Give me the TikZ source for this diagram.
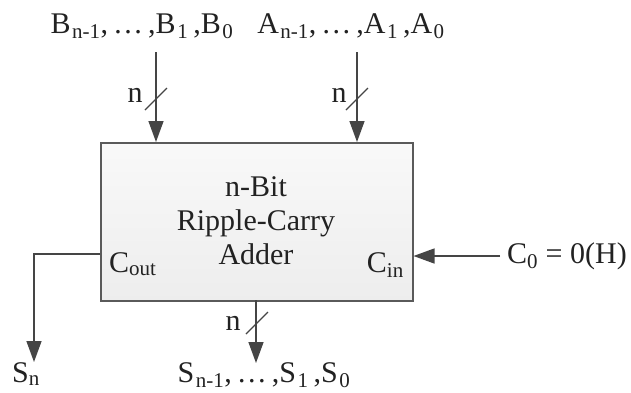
\documentclass[tikz,border=0pt]{standalone}
\usepackage{fontspec}
\setmainfont{Liberation Serif}
\usetikzlibrary{arrows.meta}
\definecolor{wirecol}{HTML}{454545}
\definecolor{boxcol}{HTML}{5A5A5A}
\definecolor{txtcol}{HTML}{222222}
\newcommand{\sbs}[1]{\kern1.5pt\textsubscript{#1}}
\begin{document}
\begin{tikzpicture}[x=1pt,y=-1pt,
  wire/.style={draw=wirecol, line width=1.4pt},
  arr/.style={wire, -{Triangle[length=21pt,width=15pt]}},
  slash/.style={draw=wirecol, line width=1.1pt},
  lbl/.style={font=\fontsize{30}{34}\selectfont, inner sep=0pt, text=txtcol},
  adderbox/.style={draw=boxcol, line width=1.5pt, top color=gray!5, bottom color=gray!14,
    minimum width=312pt, minimum height=158pt, inner sep=0pt, anchor=north west}]
\useasboundingbox (0,0) rectangle (631,392);
% box
\node[adderbox] (add) at (100,142) {};
\node[lbl, align=center] (title) at (256,221) {n-Bit\\Ripple-Carry\\Adder};
\node[lbl, anchor=base west] (cout) at (109,272) {C\textsubscript{out}};
\node[lbl, anchor=base east] (cin) at (404,272) {C\textsubscript{in}};
% top labels
\node[lbl, anchor=base] (blab) at (142,33) {B\sbs{n-1},\,…\,,B\sbs{1}\,,B\sbs{0}};
\node[lbl, anchor=base] (alab) at (351,33) {A\sbs{n-1},\,…\,,A\sbs{1}\,,A\sbs{0}};
% top arrows
\coordinate (bsrc) at (156,52);
\coordinate (asrc) at (357,52);
\draw[arr] (bsrc) -- (bsrc |- add.north);
\draw[arr] (asrc) -- (asrc |- add.north);
\coordinate (bsl) at (156,99);
\coordinate (asl) at (357,99);
\draw[slash] ([shift={(-11,11)}]bsl) -- ([shift={(11,-11)}]bsl);
\draw[slash] ([shift={(-11,11)}]asl) -- ([shift={(11,-11)}]asl);
\node[lbl] (bn) at (135,95) {n};
\node[lbl] (an) at (339,95) {n};
% carry in
\node[lbl, anchor=west] (c0) at (507,256) {C\textsubscript{0} = 0(H)};
\draw[arr] ([xshift=-7pt]c0.west) -- (c0.west -| add.east);
% carry out
\coordinate (coutp) at (100,254);
\coordinate (snp) at (34,362);
\draw[arr] (coutp) -- (snp |- coutp) -- (snp);
\node[lbl, anchor=base west] (sn) at (12,382) {S\textsubscript{n}};
% sum output
\coordinate (ssrc) at (256,300);
\coordinate (stip) at (256,363);
\draw[arr] (ssrc) -- (stip);
\coordinate (ssl) at (257,323);
\draw[slash] ([shift={(-11,11)}]ssl) -- ([shift={(11,-11)}]ssl);
\node[lbl] (snn) at (233,323) {n};
\node[lbl, anchor=base] (slab) at (264,382) {S\sbs{n-1},\,…\,,S\sbs{1}\,,S\sbs{0}};
\end{tikzpicture}
\end{document}
